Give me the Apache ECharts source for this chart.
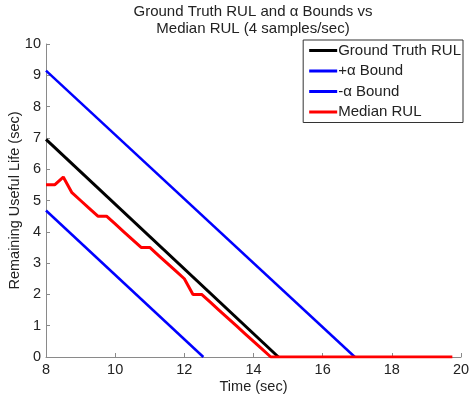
<!DOCTYPE html>
<html>
<head>
<meta charset="utf-8">
<script src="https://cdn.jsdelivr.net/npm/echarts@6/dist/echarts.min.js"></script>
<style>
  html, body { margin: 0; padding: 0; background: #fff; }
  #chart { width: 469px; height: 398px; }
</style>
</head>
<body>
<div id="chart"></div>
<script>
const seriesNames = ['Ground Truth RUL', '+\u03b1 Bound', '-\u03b1 Bound', 'Median RUL']
const gtPoints = [[8, 6.95], [14.72, 0]]
const upperPoints = [[8, 9.15], [16.93, 0]]
const lowerPoints = [[8, 4.68], [12.55, 0]]
const medianTimes = [8, 8.25, 8.5, 8.75, 9, 9.25, 9.5, 9.75, 10, 10.25, 10.5, 10.75,
    11, 11.25, 11.5, 11.75, 12, 12.25, 12.5, 12.75, 13, 13.25, 13.5, 13.75,
    14, 14.25, 14.5, 14.75, 15, 15.25, 15.5, 15.75, 16, 16.25, 16.5, 16.75,
    17, 17.25, 17.5, 17.75, 18, 18.25, 18.5, 18.75, 19, 19.25, 19.5, 19.75]
const medianValues = [5.5, 5.5, 5.75, 5.25, 5.0, 4.75, 4.5, 4.5, 4.25, 4.0, 3.75, 3.5,
    3.5, 3.25, 3.0, 2.75, 2.5, 2.0, 2.0, 1.75, 1.5, 1.25, 1.0, 0.75,
    0.5, 0.25, 0, 0, 0, 0, 0, 0, 0, 0, 0, 0,
    0, 0, 0, 0, 0, 0, 0, 0, 0, 0, 0, 0]
const xTicks = [8, 10, 12, 14, 16, 18, 20]
const yTicks = [0, 1, 2, 3, 4, 5, 6, 7, 8, 9, 10]

const colors = ['#000000', '#0000ff', '#0000ff', '#ff0000']
const font = 'Liberation Sans, Arial, Helvetica, sans-serif'

const myChart = echarts.init(document.getElementById('chart'))
const medianData = medianTimes.map((t, i) => [t, medianValues[i]])

const axisCommon = {
    type: 'value',
    splitLine: { show: false },
    axisLine: { show: true, lineStyle: { color: '#8a8a8a', width: 1 } },
    axisTick: { show: true, inside: true, length: 4, lineStyle: { color: '#8a8a8a' } },
    axisLabel: { color: '#222', fontSize: 14.5, fontFamily: font, margin: 5 },
    nameLocation: 'middle',
    nameMoveOverlap: false,
    nameTextStyle: { color: '#222', fontSize: 14.5, fontFamily: font }
}

const option = {
    animation: false,
    color: colors,
    title: {
        text: 'Ground Truth RUL and \u03b1 Bounds vs\nMedian RUL (4 samples/sec)',
        left: 253,
        top: 3,
        padding: 0,
        textAlign: 'center',
        textStyle: {
            color: '#222',
            fontSize: 15,
            fontWeight: 'normal',
            fontFamily: font,
            lineHeight: 17
        }
    },
    grid: {
        left: 46,
        right: 8,
        top: 44,
        bottom: 41,
        outerBoundsMode: 'none'
    },
    legend: {
        orient: 'vertical',
        right: 6,
        top: 40,
        icon: 'rect',
        itemWidth: 28,
        itemHeight: 3,
        itemGap: 5.5,
        padding: [3, 2, 3, 6],
        backgroundColor: '#fff',
        borderColor: '#333',
        borderWidth: 1,
        borderRadius: 0,
        textStyle: { color: '#222', fontSize: 15, fontFamily: font, padding: [0, 0, 0, -4] },
        data: seriesNames
    },
    xAxis: Object.assign({}, axisCommon, {
        min: xTicks[0],
        max: xTicks[xTicks.length - 1],
        interval: 2,
        name: 'Time (sec)',
        nameGap: 22
    }),
    yAxis: Object.assign({}, axisCommon, {
        min: yTicks[0],
        max: yTicks[yTicks.length - 1],
        interval: 1,
        name: 'Remaining Useful Life (sec)',
        nameGap: 24
    }),
    series: [
        {
            name: seriesNames[0],
            type: 'line',
            showSymbol: false,
            lineStyle: { width: 3, color: colors[0] },
            data: gtPoints
        },
        {
            name: seriesNames[1],
            type: 'line',
            showSymbol: false,
            lineStyle: { width: 2.5, color: colors[1] },
            data: upperPoints
        },
        {
            name: seriesNames[2],
            type: 'line',
            showSymbol: false,
            lineStyle: { width: 2.5, color: colors[2] },
            data: lowerPoints
        },
        {
            name: seriesNames[3],
            type: 'line',
            showSymbol: false,
            lineStyle: { width: 3, color: colors[3] },
            data: medianData
        }
    ]
}

myChart.setOption(option)
</script>
</body>
</html>
